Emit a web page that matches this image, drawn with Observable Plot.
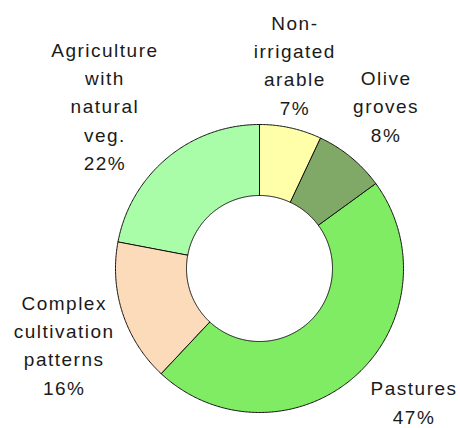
<!DOCTYPE html>
<html>
<head>
<meta charset="utf-8">
<script src="https://cdn.jsdelivr.net/npm/d3@7"></script>
<script src="https://cdn.jsdelivr.net/npm/@observablehq/plot@0.6"></script>
<style>
  html, body { margin: 0; padding: 0; background: #fff; }
  #chart svg { display: block; }
</style>
</head>
<body>
<div id="chart"></div>
<script>
// ---- data ----
const categories = ["Non-irrigated arable", "Olive groves", "Pastures", "Complex cultivation patterns", "Agriculture with natural veg."];
const labelLines = ["Non-\nirrigated\narable", "Olive\ngroves", "Pastures", "Complex\ncultivation\npatterns", "Agriculture\nwith\nnatural\nveg."];
const shares = [7, 8, 47, 16, 22];
const colors = ["#FFFFAA", "#80A866", "#80EC64", "#FCDBBA", "#AAFDA8"];

// ---- geometry (pixel-like data units around the centre) ----
const W = 460, H = 428;
const cx = 259, cy = 268;
const rOuter = 144, rInner = 73, rLabel = 208;
const arcs = d3.pie().sort(null).value(d => d)(shares);

function slicePolygon(a, i) {
  const pts = [];
  const n = Math.max(8, Math.ceil((a.endAngle - a.startAngle) / 0.01));
  for (let k = 0; k <= n; k++) {
    const t = a.startAngle + (a.endAngle - a.startAngle) * k / n;
    pts.push({x: rOuter * Math.sin(t), y: -rOuter * Math.cos(t), i});
  }
  for (let k = n; k >= 0; k--) {
    const t = a.startAngle + (a.endAngle - a.startAngle) * k / n;
    pts.push({x: rInner * Math.sin(t), y: -rInner * Math.cos(t), i});
  }
  return pts;
}

const labels = arcs.map((a, i) => {
  const m = (a.startAngle + a.endAngle) / 2;
  return {x: rLabel * Math.sin(m), y: -rLabel * Math.cos(m), text: `${labelLines[i]}\n${shares[i]}%`, i};
});
const nudges = [[-10, -2.5], [-6, -4], [17, -24], [2.5, 10.5], [-22, -4]];

const marks = [];
arcs.forEach((a, i) => {
  marks.push(Plot.line(slicePolygon(a, i), {
    x: "x", y: "y", curve: "linear-closed",
    fill: colors[i], stroke: "#111", strokeWidth: 1
  }));
});
labels.forEach((l, i) => {
  marks.push(Plot.text([l], {
    x: "x", y: "y", text: "text",
    lineAnchor: "middle", textAnchor: "middle",
    lineHeight: 1.49, fontSize: 19, fill: "#1a1a1a",
    dx: nudges[i][0], dy: nudges[i][1]
  }));
});

const chart = Plot.plot({
  width: W, height: H,
  margin: 0,
  x: {domain: [-cx, W - cx], range: [0, W], axis: null},
  y: {domain: [-cy, H - cy], range: [0, H], axis: null},
  style: {fontFamily: "'Liberation Sans', Arial, sans-serif", background: "#fff", letterSpacing: "1.5px"},
  marks
});
document.getElementById("chart").append(chart);
</script>
</body>
</html>
